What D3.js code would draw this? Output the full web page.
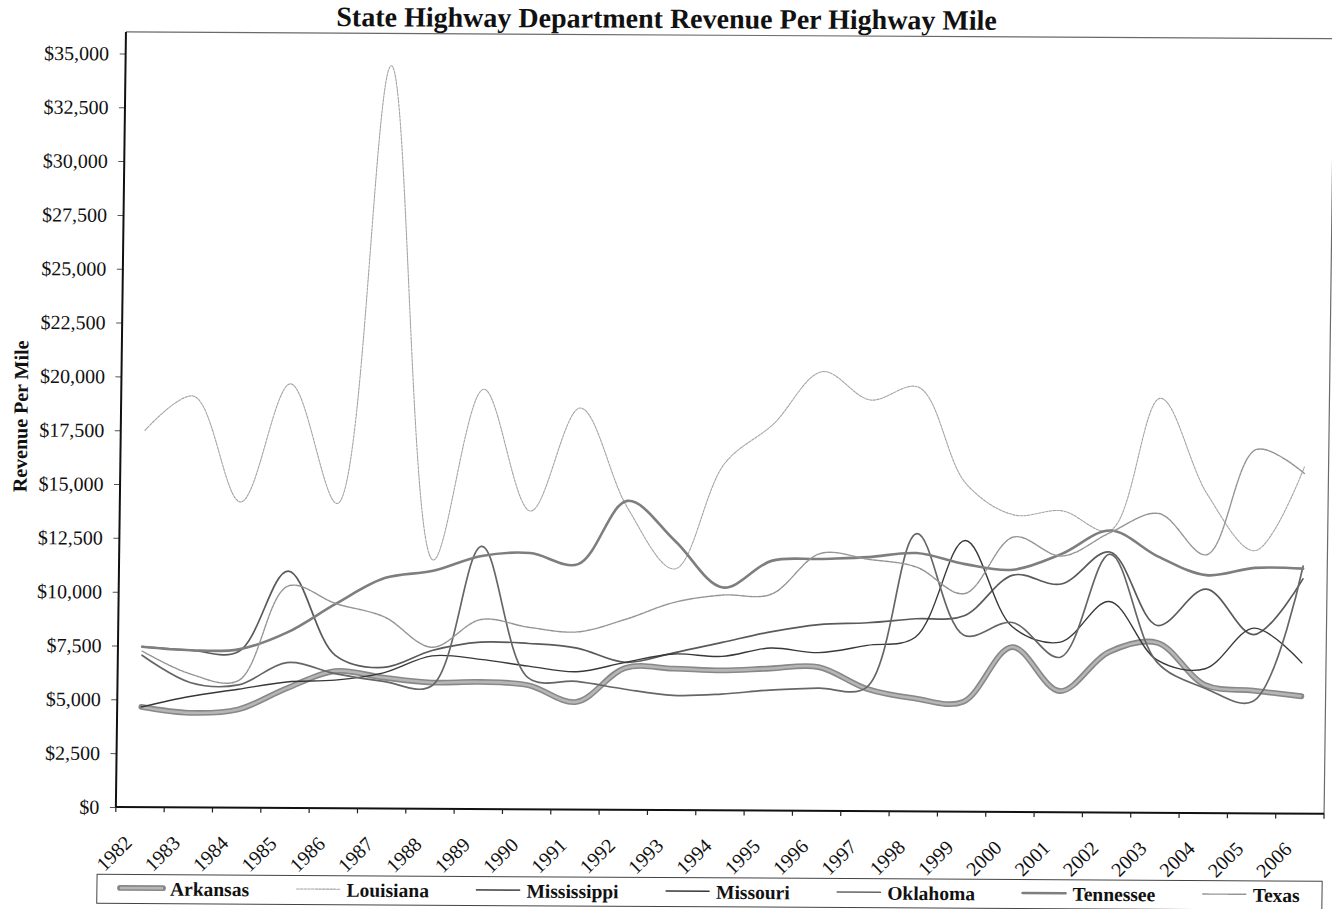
<!DOCTYPE html>
<html><head><meta charset="utf-8">
<script src="https://cdn.jsdelivr.net/npm/d3@7/dist/d3.min.js"></script>
<style>
html,body{margin:0;padding:0;background:#fff;}
svg{display:block;}
text{font-family:"Liberation Serif","Times New Roman",serif;}
</style></head><body>
<svg id="chart" width="1332" height="909"></svg>
<script>
// ---------- data ----------
const years = [1982,1983,1984,1985,1986,1987,1988,1989,1990,1991,1992,1993,1994,1995,1996,1997,1998,1999,2000,2001,2002,2003,2004,2005,2006];
const arkansas    = [4650,4390,4560,5550,6370,6080,5860,5900,5760,5000,6590,6570,6500,6600,6680,5690,5250,5100,7660,5630,7450,7900,5950,5700,5450];
const louisiana   = [17500,19100,14200,19700,14150,34500,11550,19500,13850,18650,14050,11200,16100,17950,20400,19100,19700,15250,13800,14000,13100,19250,14800,12200,16100];
const mississippi = [7450,7300,7250,11000,7100,6550,7350,7750,7700,7500,6850,7300,7800,8300,8650,8750,8950,9100,11000,10600,12100,8700,10400,8300,10900];
const missouri    = [4650,5150,5500,5850,5950,6300,7100,6950,6650,6400,6850,7250,7150,7550,7350,7700,8100,12600,8600,7900,9800,7100,6700,8600,7000];
const oklahoma    = [7050,5800,5700,6750,6250,5900,5700,12200,6100,5950,5600,5330,5400,5600,5700,5750,12900,8200,8800,7200,12000,7000,5800,5200,11500];
const tennessee   = [7450,7300,7350,8150,9500,10700,11050,11750,11900,11400,14350,12500,10350,11600,11700,11800,12000,11500,11250,12000,13100,11900,11050,11400,11380];
const texas       = [7250,6200,5900,10300,9500,8900,7500,8800,8450,8250,8850,9650,10000,10050,11950,11700,11350,10130,12770,11900,13000,13900,12000,16900,15800];
const yTicks = [0,2500,5000,7500,10000,12500,15000,17500,20000,22500,25000,27500,30000,32500,35000];
const seriesNames = ["Arkansas","Louisiana","Mississippi","Missouri","Oklahoma","Tennessee","Texas"];
const chartTitle = "State Highway Department Revenue Per Highway Mile";
const yTitle = "Revenue Per Mile";

(function () {
// ---------- styles ----------
const styles = {
  Arkansas:    {stroke:"#888888", width:5.8, inner:"#b6b6b6", innerWidth:2.6},
  Louisiana:   {stroke:"#a4a4a4", width:1.1, dash:"2.5,1.2"},
  Mississippi: {stroke:"#5a5a5a", width:1.7},
  Missouri:    {stroke:"#383838", width:1.4},
  Oklahoma:    {stroke:"#666666", width:1.7},
  Tennessee:   {stroke:"#7e7e7e", width:2.6},
  Texas:       {stroke:"#959595", width:1.4, dash:"3,1"}
};
const valuesByName = {Arkansas:arkansas, Louisiana:louisiana, Mississippi:mississippi, Missouri:missouri, Oklahoma:oklahoma, Tennessee:tennessee, Texas:texas};

// ---------- layout ----------
const pLeft = 120.5, pRight = 1328.7, pTop = 35, pBottom = 810;

const svg = d3.select("#chart");
// the scanned page is slightly skewed
const g = svg.append("g").attr("transform", "matrix(1,0.0056,-0.013,1,5.9,-3.73)");

const x = d3.scaleBand().domain(years).range([pLeft, pRight]).padding(0);
const y = d3.scaleLinear().domain([0, 36000]).range([pBottom, pTop]);
const cx = d => x(d) + x.bandwidth() / 2;

// title
g.append("text").attr("x", 661).attr("y", 28).attr("text-anchor", "middle")
  .attr("font-size", 28).attr("font-weight", "bold").attr("fill", "#111").text(chartTitle);

// frame (top & right)
g.append("path").attr("d", `M${pLeft},${pTop}H${pRight}V${pBottom}`)
  .attr("fill", "none").attr("stroke", "#6a6a6a").attr("stroke-width", 1.2);

// y axis
const yAxis = g.append("g").attr("transform", `translate(${pLeft},0)`)
  .call(d3.axisLeft(y).tickValues(yTicks).tickSize(6).tickSizeOuter(0).tickPadding(10.5)
        .tickFormat(d => "$" + d3.format(",")(d)));
yAxis.select(".domain").remove();
yAxis.selectAll(".tick line").attr("stroke", "#555").attr("stroke-width", 1);
yAxis.selectAll(".tick text").attr("font-size", 20).attr("fill", "#111")
  .attr("font-family", "'Liberation Serif','Times New Roman',serif");
g.append("line").attr("x1", pLeft).attr("x2", pLeft).attr("y1", pTop).attr("y2", pBottom)
  .attr("stroke", "#111").attr("stroke-width", 2);

// y title
g.append("text").attr("transform", "translate(27,420) rotate(-90)").attr("text-anchor", "middle")
  .attr("font-size", 20).attr("font-weight", "bold").attr("fill", "#111").text(yTitle);

// x axis
g.append("line").attr("x1", pLeft).attr("x2", pRight).attr("y1", pBottom).attr("y2", pBottom)
  .attr("stroke", "#111").attr("stroke-width", 2);
const bounds = years.map(d => x(d)).concat([pRight]);
g.selectAll(".xtick").data(bounds).join("line").attr("class", "xtick")
  .attr("x1", d => d).attr("x2", d => d).attr("y1", pBottom).attr("y2", pBottom + 5)
  .attr("stroke", "#222").attr("stroke-width", 1.2);
g.selectAll(".xlab").data(years).join("text").attr("class", "xlab")
  .attr("transform", d => `translate(${cx(d) - 6.5},847) rotate(-45)`)
  .attr("text-anchor", "end").attr("font-size", 20).attr("fill", "#111").text(d => d);

// lines
const line = d3.line().x(d => cx(d.year)).y(d => y(d.value)).curve(d3.curveCatmullRom.alpha(0.5));
const lineG = g.append("g");
seriesNames.forEach(name => {
  const st = styles[name];
  const pts = years.map((yr, i) => ({year: yr, value: valuesByName[name][i]}));
  const p = lineG.append("path").datum(pts).attr("d", line).attr("fill", "none")
    .attr("stroke", st.stroke).attr("stroke-width", st.width)
    .attr("stroke-linejoin", "round").attr("stroke-linecap", "round");
  if (st.dash) p.attr("stroke-dasharray", st.dash);
  if (st.inner) lineG.append("path").datum(pts).attr("d", line).attr("fill", "none")
    .attr("stroke", st.inner).attr("stroke-width", st.innerWidth);
});

// legend
const lgTop = 877.5, lgH = 29, lgLeft = 102.6, lgRight = 1327.7;
g.append("rect").attr("x", lgLeft).attr("y", lgTop).attr("width", lgRight - lgLeft).attr("height", lgH)
  .attr("fill", "#fff").attr("stroke", "#444").attr("stroke-width", 1);
let lx = 125.7;
const ly = 891, lty = 898.5;
seriesNames.forEach(name => {
  const st = styles[name];
  const s = g.append("line").attr("x1", lx).attr("x2", lx + 43).attr("y1", ly).attr("y2", ly)
    .attr("stroke", st.stroke).attr("stroke-width", st.width).attr("stroke-linecap", "round");
  if (st.dash) s.attr("stroke-dasharray", st.dash);
  if (st.inner) g.append("line").attr("x1", lx).attr("x2", lx + 43).attr("y1", ly).attr("y2", ly)
    .attr("stroke", st.inner).attr("stroke-width", st.innerWidth);
  const t = g.append("text").attr("x", lx + 50).attr("y", lty).attr("font-size", 19.5)
    .attr("font-weight", "bold").attr("fill", "#111").text(name);
  lx = lx + 50 + t.node().getComputedTextLength() + 47.5;
});
})();
</script>
</body></html>
